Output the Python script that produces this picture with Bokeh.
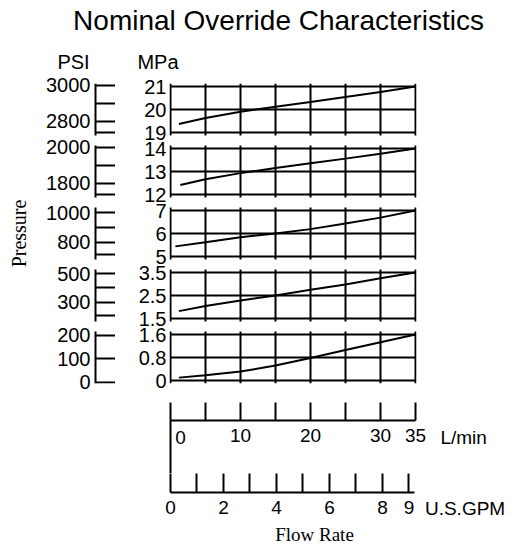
import math
from bokeh.plotting import figure
from bokeh.models import Range1d, FixedTicker, Label, Grid
from bokeh.layouts import column, row
from bokeh.embed import file_html
from bokeh.resources import INLINE

# ---------------- data ----------------
title_text = "Nominal Override Characteristics"
pressure_text = "Pressure"
flow_text = "Flow Rate"
psi_header = "PSI"
mpa_header = "MPa"
lpm_unit = "L/min"
gpm_unit = "U.S.GPM"

grid_flow = [0, 5, 10, 15, 20, 25, 30, 35]          # L/min grid lines
lpm_labelled = [10, 20, 30, 35]
lpm_unlabelled = [0, 5, 15, 25]
gpm_labelled = [0, 2, 4, 6, 8, 9]
gpm_unlabelled = [1, 3, 5, 7]
LPM_PER_GPM = 3.78541

# panel 1 (top)
mpa_ticks_1 = [19, 20, 21]
psi_major_1 = [3000, 2800]
psi_minor_1 = [2900, 2735]
psi_span_1 = (2720, 3011)
flow_1 = [1.2, 5, 10, 15, 20, 25, 30, 35]
mpa_1 = [19.37, 19.63, 19.9, 20.12, 20.33, 20.54, 20.76, 21.0]
# panel 2
mpa_ticks_2 = [12, 13, 14]
psi_major_2 = [2000, 1800]
psi_minor_2 = [1900, 1735]
psi_span_2 = (1720, 2011)
flow_2 = [1.4, 5, 10, 15, 20, 25, 30, 35]
mpa_2 = [12.41, 12.66, 12.93, 13.15, 13.36, 13.56, 13.77, 14.0]
# panel 3
mpa_ticks_3 = [5, 6, 7]
psi_major_3 = [1000, 800]
psi_minor_3 = [900, 716]
psi_span_3 = (682, 1036)
flow_3 = [0.7, 5, 10, 15, 20, 25, 30, 35]
mpa_3 = [5.44, 5.62, 5.84, 6.0, 6.19, 6.43, 6.69, 7.0]
# panel 4
mpa_ticks_4 = [1.5, 2.5, 3.5]
psi_major_4 = [500, 300]
psi_minor_4 = [400, 206]
psi_span_4 = (164, 530)
flow_4 = [1.2, 5, 10, 15, 20, 25, 30, 35]
mpa_4 = [1.82, 2.04, 2.28, 2.5, 2.75, 2.98, 3.25, 3.5]
# panel 5 (bottom)
mpa_ticks_5 = [0, 0.8, 1.6]
psi_major_5 = [200, 100, 0]
psi_minor_5 = []
psi_span_5 = (-6, 217)
flow_5 = [1.2, 5, 10, 15, 20, 25, 30, 35]
mpa_5 = [0.1, 0.18, 0.31, 0.52, 0.78, 1.06, 1.33, 1.6]

panels = [
    (mpa_ticks_1, psi_major_1, psi_minor_1, psi_span_1, flow_1, mpa_1),
    (mpa_ticks_2, psi_major_2, psi_minor_2, psi_span_2, flow_2, mpa_2),
    (mpa_ticks_3, psi_major_3, psi_minor_3, psi_span_3, flow_3, mpa_3),
    (mpa_ticks_4, psi_major_4, psi_minor_4, psi_span_4, flow_4, mpa_4),
    (mpa_ticks_5, psi_major_5, psi_minor_5, psi_span_5, flow_5, mpa_5),
]

# ---------------- style / layout ----------------
SANS = "Liberation Sans"
SERIF = "Liberation Serif"
FULL_W = 524
FRAME_W = 246
X_END = 35.15
PX_PER_LPM = FRAME_W / X_END
N = len(panels)
BAND = 52          # height of one panel band
GAP = 10           # gap between bands
TOTAL = N * BAND + (N - 1) * GAP
STACK_TOP, STACK_BOTTOM = 10, 12


def base_fig(**kw):
    p = figure(toolbar_location=None, output_backend="svg", **kw)
    p.outline_line_color = None
    p.background_fill_color = "white"
    p.border_fill_color = "white"
    p.xgrid.visible = False
    p.ygrid.visible = False
    return p


def style_axis(ax, size="20px"):
    ax.axis_line_color = "black"
    ax.axis_line_width = 2
    ax.major_tick_line_color = "black"
    ax.major_tick_line_width = 2
    ax.minor_tick_line_color = "black"
    ax.minor_tick_line_width = 2
    ax.major_label_text_font = SANS
    ax.major_label_text_font_size = size
    ax.major_label_text_color = "black"


def text_label(**kw):
    kw.setdefault("text_color", "black")
    kw.setdefault("text_font", SANS)
    kw.setdefault("text_baseline", "middle")
    return Label(**kw)


def band_lo(i):
    return (N - 1 - i) * (BAND + GAP)


def band_range(i, lo_v, hi_v):
    """Range whose [lo_v, hi_v] fills panel band i of the stacked frame."""
    k = (hi_v - lo_v) / BAND
    start = lo_v - band_lo(i) * k
    return Range1d(start, start + TOTAL * k)


def to_stack(i, v, lo_v, hi_v):
    return round(band_lo(i) + (v - lo_v) / (hi_v - lo_v) * BAND, 4)


def black_grid(**kw):
    return Grid(grid_line_color="black", grid_line_width=2, grid_line_alpha=1, **kw)


# ---------------- header ----------------
HDR_H = 73
hdr = base_fig(width=FULL_W, height=HDR_H, x_range=Range1d(0, FULL_W), y_range=Range1d(0, HDR_H),
               min_border=0, x_axis_location=None, y_axis_location=None)
hdr.add_layout(text_label(x=278, y=HDR_H - 19.5, text=title_text, text_align="center",
                          text_font_size="28px"))
hdr.add_layout(text_label(x=73, y=HDR_H - 61.5, text=psi_header, text_align="center",
                          text_font_size="20px"))
hdr.add_layout(text_label(x=157.5, y=HDR_H - 61.5, text=mpa_header, text_align="center",
                          text_font_size="20px"))

# ---------------- PSI strip (all panels) ----------------
PSI_W = 22
PSI_X = 2          # x of the PSI scale line inside the strip
psi_fig = base_fig(frame_width=PSI_W, frame_height=TOTAL, min_border_left=93, min_border_right=0,
                   min_border_top=STACK_TOP, min_border_bottom=STACK_BOTTOM,
                   x_range=Range1d(0, PSI_W), y_range=Range1d(0, TOTAL),
                   x_axis_location=None, y_axis_location="left")
psi_pos, psi_lab = [], {}
for i, (mticks, pmajor, pminor, pspan, fl, mp) in enumerate(panels):
    name = f"psi{i}"
    psi_fig.extra_y_ranges[name] = band_range(i, *pspan)
    for v in pmajor:
        pos = to_stack(i, v, *pspan)
        psi_pos.append(pos)
        psi_lab[pos] = f"{v:g}"
    psi_fig.add_layout(black_grid(dimension=1, y_range_name=name,
                                  ticker=FixedTicker(ticks=pmajor + pminor),
                                  cross_bounds=(PSI_X, PSI_W)))
    psi_fig.add_layout(black_grid(dimension=0, y_range_name=name,
                                  ticker=FixedTicker(ticks=[PSI_X]), cross_bounds=pspan))
pax = psi_fig.yaxis[0]
style_axis(pax)
pax.ticker = FixedTicker(ticks=psi_pos)
pax.major_label_overrides = psi_lab
pax.axis_line_color = None
pax.major_tick_line_color = None
pax.major_tick_in = 0
pax.major_tick_out = 0
pax.minor_tick_in = 0
pax.minor_tick_out = 0
pax.major_label_standoff = 3
pax.axis_label = pressure_text
pax.axis_label_text_font = SERIF
pax.axis_label_text_font_size = "20px"
pax.axis_label_text_font_style = "normal"
pax.axis_label_text_color = "black"
pax.axis_label_standoff = 13

# ---------------- MPa charts (all panels) ----------------
X0 = -1 / PX_PER_LPM
mpa_fig = base_fig(frame_width=FRAME_W + 1, frame_height=TOTAL, min_border_left=54, min_border_right=10,
                   min_border_top=STACK_TOP, min_border_bottom=STACK_BOTTOM,
                   x_range=Range1d(X0, X_END), y_range=Range1d(0, TOTAL),
                   x_axis_location=None, y_axis_location="left")
mpa_pos, mpa_lab = [], {}
for i, (mticks, pmajor, pminor, pspan, fl, mp) in enumerate(panels):
    name = f"mpa{i}"
    lo, hi = mticks[0], mticks[-1]
    pad = (hi - lo) * 3 / (BAND - 6)
    mpa_fig.extra_y_ranges[name] = band_range(i, lo - pad, hi + pad)
    for v in mticks:
        pos = to_stack(i, v, lo - pad, hi + pad)
        mpa_pos.append(pos)
        mpa_lab[pos] = f"{v:g}"
    mpa_fig.add_layout(black_grid(dimension=1, y_range_name=name,
                                  ticker=FixedTicker(ticks=mticks), cross_bounds=(0, 35)))
    mpa_fig.add_layout(black_grid(dimension=0, y_range_name=name,
                                  ticker=FixedTicker(ticks=grid_flow), cross_bounds=(lo - pad, hi + pad)))
    mpa_fig.line(fl, mp, y_range_name=name, line_width=2, line_color="black")
may = mpa_fig.yaxis[0]
style_axis(may)
may.ticker = FixedTicker(ticks=mpa_pos)
may.major_label_overrides = mpa_lab
may.axis_line_color = None
may.major_tick_line_color = None
may.major_tick_in = 0
may.major_tick_out = 0
may.minor_tick_in = 0
may.minor_tick_out = 0
may.major_label_standoff = 3

# ---------------- L/min scale ----------------
BOT_W = 346
LH = 53
figL = base_fig(frame_width=BOT_W, frame_height=LH, min_border_left=170, min_border_right=FULL_W - 170 - BOT_W,
                min_border_top=25, min_border_bottom=0, x_range=Range1d(0, BOT_W / PX_PER_LPM),
                y_range=Range1d(0, LH), x_axis_location="above", y_axis_location="left")
axl = figL.xaxis[0]
style_axis(axl, "19px")
axl.ticker = FixedTicker(ticks=lpm_labelled, minor_ticks=lpm_unlabelled)
axl.bounds = (0, 35)
axl.major_tick_out = 18
axl.major_tick_in = 0
axl.minor_tick_out = 18
axl.minor_tick_in = 0
axl.major_label_standoff = -39
spine = figL.yaxis[0]
style_axis(spine)
spine.ticker = FixedTicker(ticks=[])
spine.major_tick_out = 0
spine.minor_tick_out = 0
figL.add_layout(text_label(x=0, y=LH - 16.5, x_offset=10, text="0", text_align="center",
                           text_font_size="19px"))
figL.add_layout(text_label(x=35, y=LH - 16.5, x_offset=25, text=lpm_unit, text_align="left",
                           text_font_size="19px"))

# ---------------- GPM scale ----------------
GH = 53
px_per_gpm = PX_PER_LPM * LPM_PER_GPM
figG = base_fig(frame_width=BOT_W, frame_height=GH, min_border_left=170, min_border_right=FULL_W - 170 - BOT_W,
                min_border_top=19, min_border_bottom=0, x_range=Range1d(0, BOT_W / px_per_gpm),
                y_range=Range1d(0, GH), x_axis_location="above", y_axis_location=None)
axg = figG.xaxis[0]
style_axis(axg, "19px")
axg.ticker = FixedTicker(ticks=gpm_labelled, minor_ticks=gpm_unlabelled)
axg.bounds = (0, 9.2)
axg.major_tick_out = 19
axg.major_tick_in = 0
axg.minor_tick_out = 19
axg.minor_tick_in = 0
axg.major_label_standoff = -40
figG.add_layout(text_label(x=9, y=GH - 15.5, x_offset=16, text=gpm_unit, text_align="left",
                           text_font_size="19px"))
figG.add_layout(text_label(x=144 / px_per_gpm, y=GH - 42, text=flow_text, text_align="center",
                           text_font=SERIF, text_font_size="19px"))

layout = column(row(hdr), row(psi_fig, mpa_fig), row(figL), row(figG))

open("out.html", "w").write(file_html(layout, INLINE))
